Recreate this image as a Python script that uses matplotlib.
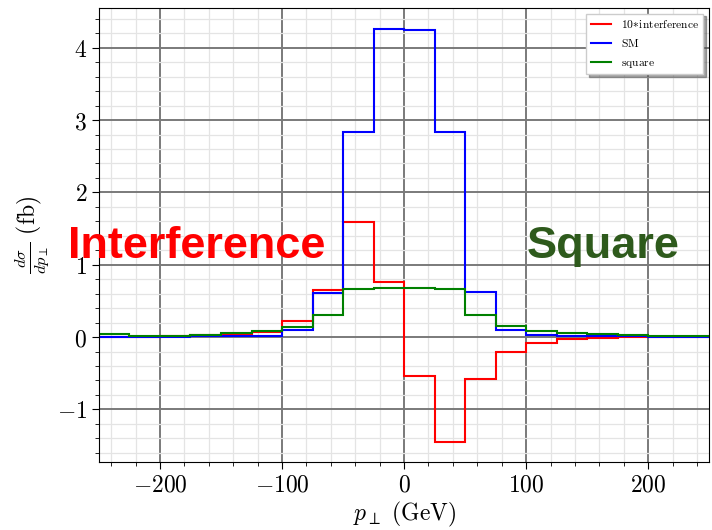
import numpy as np
import matplotlib
matplotlib.use("Agg")
import matplotlib.pyplot as plt
from matplotlib.ticker import MultipleLocator, FuncFormatter

plt.rcParams['mathtext.fontset'] = 'cm'
plt.rcParams['font.family'] = 'serif'
plt.rcParams['font.serif'] = ['DejaVu Serif']

edges = np.arange(-250, 251, 25)
interference10 = [0.005, 0.005, 0.01, 0.025, 0.045, 0.07, 0.22, 0.65, 1.59, 0.755,
                  -0.545, -1.445, -0.58, -0.21, -0.08, -0.03, -0.01, -0.005, 0.0, 0.0]
sm = [0.005, 0.005, 0.005, 0.01, 0.01, 0.02, 0.10, 0.615, 2.84, 4.26,
      4.24, 2.84, 0.62, 0.093, 0.035, 0.02, 0.01, 0.01, 0.005, 0.005]
square = [0.045, 0.02, 0.02, 0.03, 0.05, 0.085, 0.14, 0.305, 0.662, 0.676,
          0.68, 0.665, 0.305, 0.15, 0.08, 0.055, 0.04, 0.025, 0.02, 0.015]
labels = [r'$\mathrm{10}\!*\!\mathrm{interference}$', r'$\mathrm{SM}$', r'$\mathrm{square}$']

fig = plt.figure(figsize=(7.12, 5.30), dpi=100)
ax = fig.add_axes([0.139, 0.128, 0.857, 0.857])

ax.stairs(interference10, edges, color='red', lw=1.5, label=labels[0])
ax.stairs(sm, edges, color='blue', lw=1.5, label=labels[1])
ax.stairs(square, edges, color='green', lw=1.5, label=labels[2])

ax.set_xlim(-250, 250)
ax.set_ylim(-1.73, 4.55)
ax.xaxis.set_major_locator(MultipleLocator(100))
ax.xaxis.set_minor_locator(MultipleLocator(20))
ax.yaxis.set_major_locator(MultipleLocator(1))
ax.yaxis.set_minor_locator(MultipleLocator(0.2))
fmt = FuncFormatter(lambda v, p: r'$%d$' % round(v))
ax.xaxis.set_major_formatter(fmt)
ax.yaxis.set_major_formatter(fmt)
ax.grid(which='major', color='#7a7a7a', lw=1.4)
ax.grid(which='minor', color='#e4e4e4', lw=0.9)
ax.set_axisbelow(True)
ax.tick_params(which='both', labelsize=17)
ax.tick_params(which='major', length=5)
ax.tick_params(which='minor', length=3)

ax.set_xlabel(r'$p_\perp\ (\mathrm{GeV})$', fontsize=17, labelpad=2)
ax.set_ylabel(r'$\frac{d\sigma}{dp_\perp}\ (\mathrm{fb})$', fontsize=17, labelpad=4)

ax.legend(loc='upper right', fontsize=8.3, shadow=True, fancybox=False, framealpha=1,
          edgecolor='#cccccc', handlelength=1.8)

ax.text(-170, 1.25, 'Interference', color='red', fontsize=32.5, fontweight='bold',
        family='Liberation Sans', ha='center', va='center')
ax.text(163, 1.25, 'Square', color='#2e5a1c', fontsize=32.5, fontweight='bold',
        family='Liberation Sans', ha='center', va='center')

fig.savefig('out.png', dpi=100)
